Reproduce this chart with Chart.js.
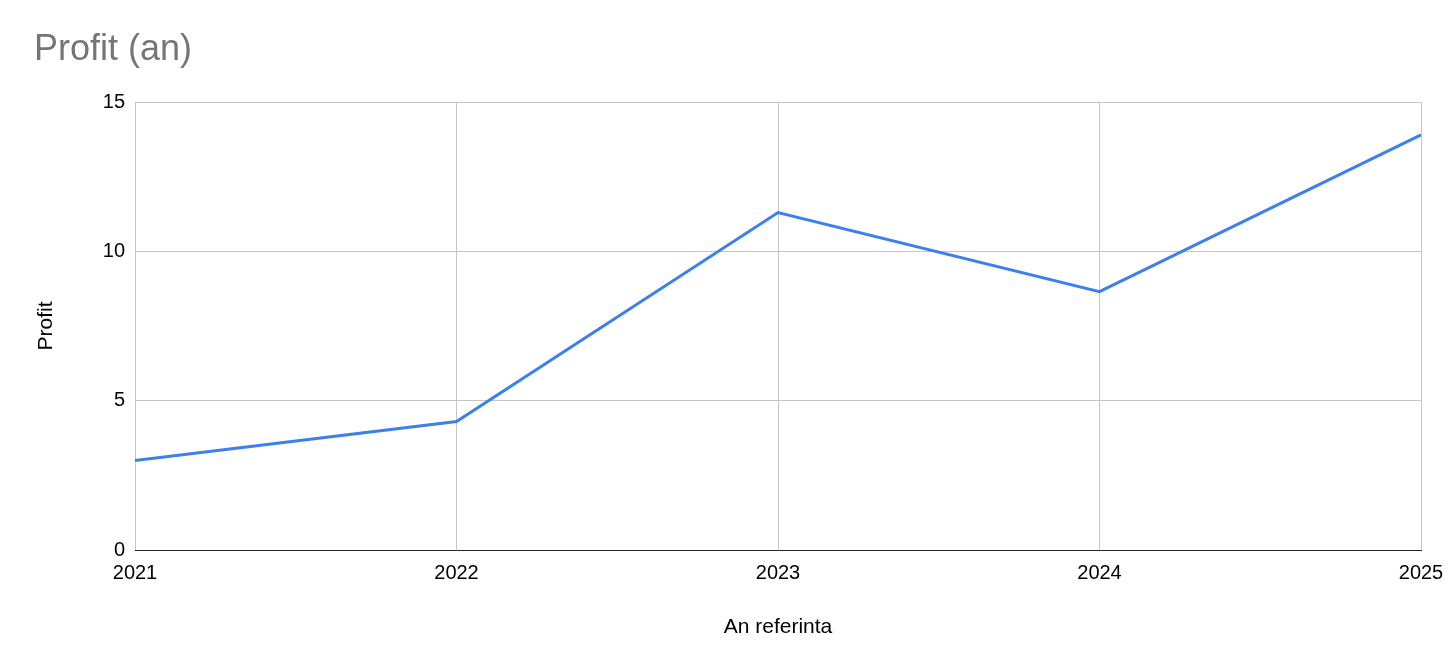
<!DOCTYPE html>
<html>
<head>
<meta charset="utf-8">
<title>Profit (an)</title>
<script src="https://cdn.jsdelivr.net/npm/chart.js@4.4.1/dist/chart.umd.min.js"></script>
<style>
    html, body { margin: 0; padding: 0; background: #fff; }
    #wrap { width: 1456px; height: 671px; position: relative; }
</style>
</head>
<body>
<div id="wrap"><canvas id="profitChart"></canvas></div>
<script>
const years = ['2021', '2022', '2023', '2024', '2025'];
const profit = [3.0, 4.3, 11.3, 8.65, 13.9];
const yTicks = [0, 5, 10, 15];

const FONT = "'Liberation Sans', Arial, sans-serif";

document.addEventListener('DOMContentLoaded', function () {
    const ctx = document.getElementById('profitChart').getContext('2d');

    const profitChart = new Chart(ctx, {
        type: 'line',
        data: {
            labels: years,
            datasets: [{
                label: 'Profit',
                data: profit,
                borderColor: '#3b80ee',
                backgroundColor: '#3b80ee',
                borderWidth: 3,
                pointRadius: 0,
                pointHoverRadius: 0,
                tension: 0,
                fill: false
            }]
        },
        options: {
            responsive: true,
            maintainAspectRatio: false,
            animation: false,
            layout: {
                padding: { left: 34, right: 35, top: 0, bottom: 23 }
            },
            plugins: {
                legend: { display: false },
                tooltip: { enabled: false },
                title: {
                    display: true,
                    text: 'Profit (an)',
                    align: 'start',
                    color: '#757575',
                    font: { family: FONT, size: 36, weight: 'normal' },
                    padding: { top: 28, bottom: 30.8 }
                }
            },
            scales: {
                x: {
                    offset: false,
                    grid: { color: '#c6c6c6', lineWidth: 1, drawTicks: false },
                    border: { display: true, color: '#222', width: 1, z: 1 },
                    ticks: {
                        color: '#000',
                        font: { family: FONT, size: 20 },
                        padding: 11,
                        maxRotation: 0,
                        autoSkip: false
                    },
                    title: {
                        display: true,
                        text: 'An referinta',
                        color: '#000',
                        font: { family: FONT, size: 21 },
                        padding: { top: 30, bottom: 8 }
                    },
                    afterFit: function (scale) { scale.height = 121 - 23; }
                },
                y: {
                    min: 0,
                    max: 15,
                    afterBuildTicks: function (scale) {
                        scale.ticks = yTicks.map(v => ({ value: v }));
                    },
                    grid: {
                        color: c => (c.tick && c.tick.value === 0) ? 'rgba(0,0,0,0)' : '#c6c6c6',
                        lineWidth: 1,
                        drawTicks: false
                    },
                    border: { display: false },
                    ticks: {
                        color: '#000',
                        font: { family: FONT, size: 20 },
                        padding: 10
                    },
                    title: {
                        display: true,
                        text: 'Profit',
                        color: '#000',
                        font: { family: FONT, size: 21 },
                        padding: { top: 0, bottom: 0 }
                    },
                    afterFit: function (scale) { scale.width = 101; }
                }
            }
        }
    });
});
</script>
</body>
</html>
